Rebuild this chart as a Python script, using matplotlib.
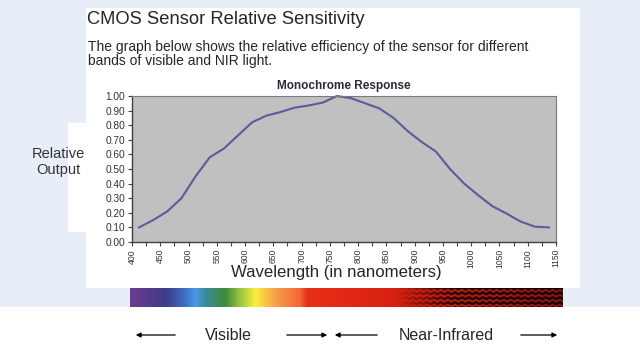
import numpy as np
import matplotlib
matplotlib.use('Agg')
import matplotlib.pyplot as plt
from matplotlib.patches import Rectangle
from matplotlib.colors import LinearSegmentedColormap

plt.rcParams['font.family'] = ['Liberation Sans', 'DejaVu Sans']

# data
wavelength = [412.5, 437.5, 462.5, 487.5, 512.5, 537.5, 562.5, 587.5, 612.5, 637.5,
              662.5, 687.5, 712.5, 737.5, 762.5, 787.5, 812.5, 837.5, 862.5, 887.5,
              912.5, 937.5, 962.5, 987.5, 1012.5, 1037.5, 1062.5, 1087.5, 1112.5, 1137.5]
response = [0.10, 0.15, 0.21, 0.30, 0.45, 0.58, 0.64, 0.73, 0.82, 0.865,
            0.89, 0.92, 0.935, 0.955, 1.00, 0.985, 0.95, 0.915, 0.85, 0.76,
            0.685, 0.62, 0.50, 0.40, 0.32, 0.245, 0.195, 0.14, 0.105, 0.10]
tick_labels = ['400', '450', '500', '550', '600', '650', '700', '750', '800',
               '850', '900', '950', '1000', '1050', '1100', '1150']
y_ticks = [0.0, 0.1, 0.2, 0.3, 0.4, 0.5, 0.6, 0.7, 0.8, 0.9, 1.0]

W, H = 640, 361
fig = plt.figure(figsize=(6.4, 3.61), dpi=100)

# background layer in pixel coords
bg = fig.add_axes([0, 0, 1, 1], zorder=0)
bg.set_xlim(0, W)
bg.set_ylim(H, 0)
bg.axis('off')

blue = '#e7eef8'
bg.add_patch(Rectangle((0, 0), W, 307, color=blue, lw=0))
bg.add_patch(Rectangle((86, 8), 494, 280, color='white', lw=0))
bg.add_patch(Rectangle((68, 123), 20, 109, color='white', lw=0))

txt = '#262626'
bg.text(87, 20, 'CMOS Sensor Relative Sensitivity', fontsize=13.2, color=txt,
        va='center', ha='left')
bg.text(88, 47, 'The graph below shows the relative efficiency of the sensor for different',
        fontsize=10, color=txt, va='center', ha='left')
bg.text(88, 61, 'bands of visible and NIR light.', fontsize=10, color=txt,
        va='center', ha='left')
bg.text(344, 86, 'Monochrome Response', fontsize=8.5, fontweight='bold',
        color='#2a2a3a', va='center', ha='center')
bg.text(58, 162, 'Relative\nOutput', fontsize=10.5, color='#333333',
        va='center', ha='center', linespacing=1.25)
bg.text(336, 273, 'Wavelength (in nanometers)', fontsize=12.1, color=txt,
        va='center', ha='center')

# spectrum bar
stops = [(130, '#6a3d8e'), (165, '#3e3a88'), (185, '#3f72c8'), (195, '#4a98e8'),
         (205, '#3a8a9a'), (225, '#3e8a3a'), (238, '#90c040'), (255, '#f8f040'),
         (275, '#f8a048'), (300, '#f06638'), (307, '#e83018'), (390, '#d82010'),
         (563, '#8a1410')]
x0, x1 = 130, 563
cmap = LinearSegmentedColormap.from_list(
    'spec', [((p - x0) / (x1 - x0), c) for p, c in stops])
ss = 3
xs = np.linspace(x0, x1, (x1 - x0) * ss)
ys = np.linspace(0, 19, 19 * ss)
XX, YY = np.meshgrid(xs, ys)
img = cmap((XX - x0) / (x1 - x0))[..., :3]
tri = np.abs((XX / 7.0) % 1 - 0.5) * 2
phase = ((YY + tri * 2.0) / 5.0) % 1
dark = (phase < 0.5).astype(float)
fade = np.clip((XX - 395) / 60.0, 0, 1)
img = img * (1 - 0.9 * (dark * fade))[..., None]
bg.imshow(img, extent=(x0, x1, 307, 288), aspect='auto',
          interpolation='bilinear', zorder=3)
bg.set_xlim(0, W)
bg.set_ylim(H, 0)

# arrows and labels below
arr = dict(arrowstyle='-|>', color='black', lw=0.9, mutation_scale=7)
y_a = 335
for xa, xb in [(178, 133), (284, 330), (380, 332), (518, 560)]:
    bg.annotate('', xy=(xb, y_a), xytext=(xa, y_a), arrowprops=arr)
bg.text(228, y_a, 'Visible', fontsize=11.5, color=txt, va='center', ha='center')
bg.text(446, y_a, 'Near-Infrared', fontsize=11.5, color=txt, va='center', ha='center')

# main chart
ax = fig.add_axes([132 / W, 1 - 242 / H, 424 / W, 146 / H], zorder=1)
ax.set_facecolor('#c0c0c0')
ax.plot(wavelength, response, color='#5b5b9c', lw=1.5, clip_on=False)
ax.set_xlim(400, 1150)
ax.set_ylim(0, 1)
ax.set_xticks(np.arange(400, 1151, 50))
ax.set_xticks(np.arange(425, 1150, 50), minor=True)
ax.set_xticklabels(tick_labels, rotation=90, fontsize=6.2, color='#333333')
ax.set_yticks(y_ticks)
ax.set_yticklabels(['%.2f' % v for v in y_ticks], fontsize=7.3, color='#333333')
ax.tick_params(axis='both', which='both', direction='out', length=3, width=0.8,
               color='#404040', pad=2)
for s in ['left', 'bottom']:
    ax.spines[s].set_color('#404040')
    ax.spines[s].set_linewidth(1.0)
for s in ['top', 'right']:
    ax.spines[s].set_color('#7a7a7a')
    ax.spines[s].set_linewidth(0.8)

fig.savefig('out.png', dpi=100)
